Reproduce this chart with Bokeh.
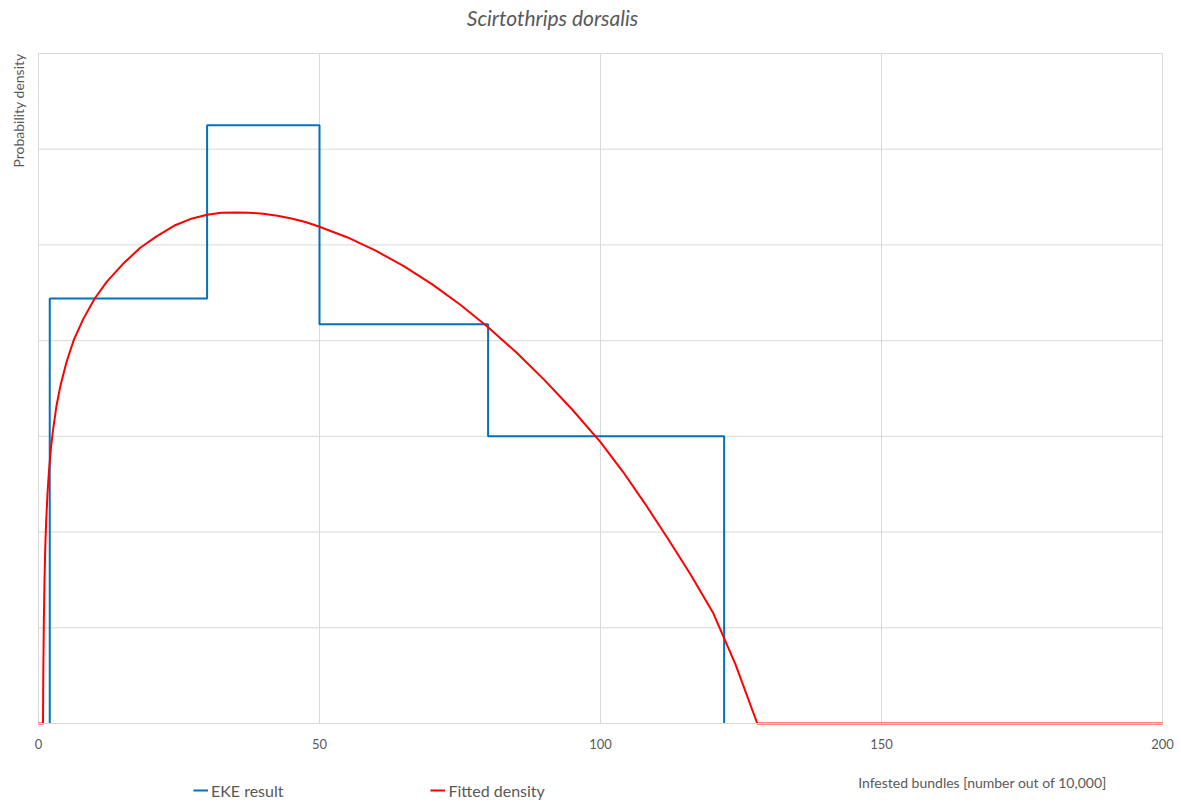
import math
from bokeh.plotting import figure
from bokeh.models import Range1d, Legend, LegendItem, FixedTicker, Label
from bokeh.embed import file_html
from bokeh.resources import INLINE

# ---- data ----
eke_edges = [2, 30, 50, 80, 122]
eke_density = [4.44, 6.25, 4.17, 3.0]

fit_x = [0, 0.8, 0.85, 0.95, 1.07, 1.2, 1.37, 1.6, 1.84, 2.2, 2.55, 3.2, 3.9, 5.0,
         6.3, 8.0, 10.0, 12.2, 15.0, 18.1, 21.0, 24.1, 27.0, 30.0, 32.5, 35.0, 37.5,
         40.0, 42.5, 45.0, 47.5, 50.0, 55.0, 60.0, 65.0, 70.0, 75.0, 80.0, 85.0,
         90.0, 95.0, 100.0, 104.0, 108.0, 112.0, 116.0, 120.0, 124.0, 127.9, 200]
fit_y = [0, 0, 0.5, 1.05, 1.5, 1.83, 2.12, 2.40, 2.62, 2.87, 3.05, 3.32, 3.53, 3.78,
         4.01, 4.23, 4.44, 4.62, 4.80, 4.97, 5.09, 5.20, 5.27, 5.315, 5.335, 5.34,
         5.337, 5.325, 5.305, 5.277, 5.24, 5.19, 5.078, 4.94, 4.778, 4.59, 4.378,
         4.14, 3.878, 3.59, 3.278, 2.94, 2.63, 2.29, 1.93, 1.56, 1.16, 0.62, 0.0, 0.0]

x_ticks = [0, 50, 100, 150, 200]
y_grid = [0, 1, 2, 3, 4, 5, 6, 7]

title_text = "Scirtothrips dorsalis"
y_label = "Probability density"
x_label = "Infested bundles [number out of 10,000]"
series_names = ["EKE result", "Fitted density"]

# ---- layout (pixels) ----
W, H = 1181, 805
PL, PR, PT, PB = 38, 1162, 53, 723          # plot-area edges
X0, X1 = x_ticks[0], x_ticks[-1]
Y0, Y1 = y_grid[0], y_grid[-1]
sx = (PR - PL) / (X1 - X0)
sy = (PB - PT) / (Y1 - Y0)
x_range = Range1d(X0 - PL / sx, X1 + (W - PR) / sx)
y_range = Range1d(Y0 - (H - PB) / sy, Y1 + PT / sy)

def dx(px):
    return X0 + (px - PL) / sx

def dy(py):
    return Y0 + (PB - py) / sy

# step outline built from edges / densities
step_x, step_y = [eke_edges[0]], [0]
for i, d in enumerate(eke_density):
    step_x += [eke_edges[i], eke_edges[i + 1]]
    step_y += [d, d]
step_x.append(eke_edges[-1])
step_y.append(0)

FONT = "Lato"
GREY = "#595959"
GRID = "#D9D9D9"

p = figure(width=W, height=H, output_backend="svg", toolbar_location=None,
           x_range=x_range, y_range=y_range, y_axis_location=None, min_border=0)
p.outline_line_color = None
p.background_fill_color = "white"
p.border_fill_color = "white"
p.xgrid.visible = False
p.ygrid.visible = False

# x axis drawn at y = 0
p.xaxis.fixed_location = 0
p.xaxis.bounds = (X0, X1)
p.xaxis.ticker = FixedTicker(ticks=x_ticks)
p.xaxis.axis_line_color = GRID
p.xaxis.major_tick_line_color = None
p.xaxis.minor_tick_line_color = None
p.xaxis.major_tick_out = 0
p.xaxis.major_tick_in = 0
p.xaxis.major_label_text_color = GREY
p.xaxis.major_label_text_font = FONT
p.xaxis.major_label_text_font_size = "13px"
p.xaxis.major_label_standoff = 15

# gridlines limited to the plot area
p.segment(x0=x_ticks, y0=[Y0] * len(x_ticks), x1=x_ticks, y1=[Y1] * len(x_ticks),
          line_color=GRID, line_width=1)
p.segment(x0=[X0] * len(y_grid), y0=y_grid, x1=[X1] * len(y_grid), y1=y_grid,
          line_color=GRID, line_width=1)

# series
r_eke = p.line(step_x, step_y, line_color="#0070C0", line_width=2)
r_fit = p.line(fit_x, fit_y, line_color="#FF0000", line_width=2,
               line_join="round")

# texts
p.add_layout(Label(x=dx(552), y=dy(17), text=title_text, text_font=FONT,
                   text_font_style="italic", text_font_size="21px", text_color=GREY,
                   text_align="center", text_baseline="middle"))
p.add_layout(Label(x=dx(18), y=dy(110), text=y_label, angle=math.pi / 2,
                   text_font=FONT, text_font_size="14px", text_color=GREY,
                   text_align="center", text_baseline="middle"))
p.add_layout(Label(x=dx(982), y=dy(782), text=x_label, text_font=FONT,
                   text_font_size="14px", text_color=GREY,
                   text_align="center", text_baseline="middle"))

legend = Legend(items=[LegendItem(label=series_names[0], renderers=[r_eke]),
                       LegendItem(label=series_names[1], renderers=[r_fit])],
                orientation="horizontal", location=(193, H - 790 - 10),
                label_text_font=FONT, label_text_font_size="16px",
                label_text_color=GREY, glyph_width=15, glyph_height=20,
                label_height=20, label_standoff=3, spacing=147, padding=0, margin=0,
                border_line_color=None, background_fill_alpha=0)
p.add_layout(legend, "center")

open("out.html", "w").write(file_html(p, INLINE))
